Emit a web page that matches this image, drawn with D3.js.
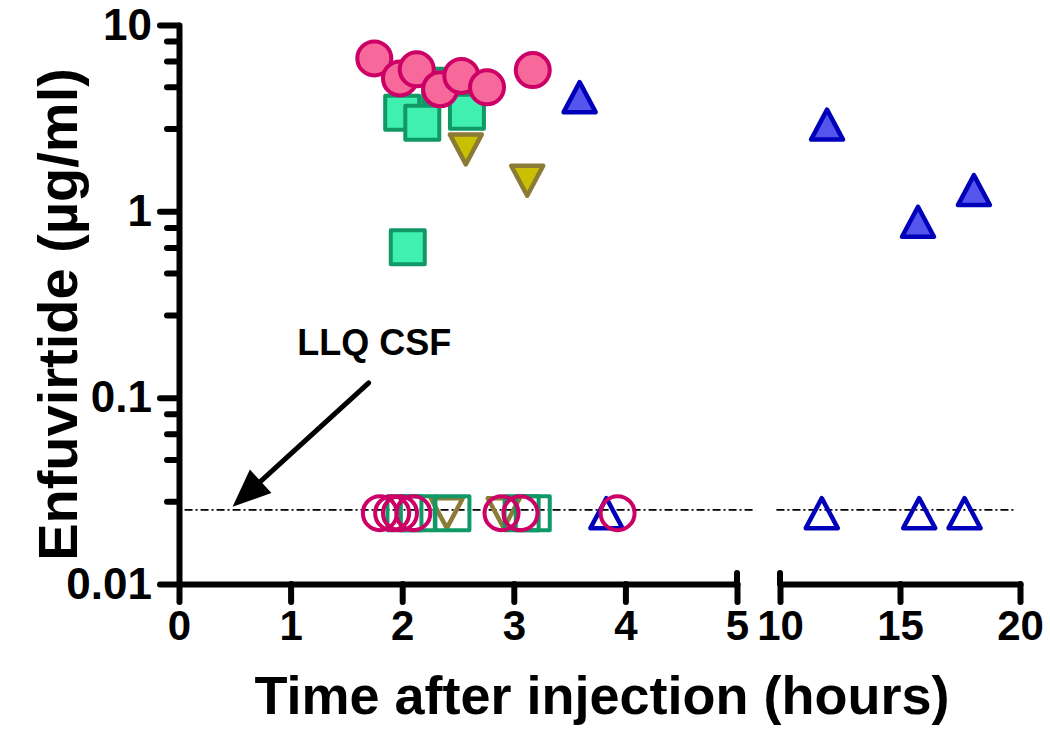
<!DOCTYPE html>
<html>
<head>
<meta charset="utf-8">
<script src="https://cdn.jsdelivr.net/npm/d3@7"></script>
<style>
  html, body { margin: 0; padding: 0; background: #fff; }
  svg { display: block; }
  text { font-family: "Liberation Sans", Arial, sans-serif; font-weight: bold; fill: #000; }
</style>
</head>
<body>
<svg id="chart" width="1050" height="742"></svg>
<script>
// ---------------- data ----------------
// Lower limit of quantification (CSF) and the value at which BLQ samples are plotted
const llqCSF = 0.025;
const blqPlotValue = 0.024;

// pink circles
const circleFilledTime = [1.75, 1.98, 2.13, 2.34, 2.53, 2.76, 3.17];
const circleFilledConc = [6.62, 5.17, 5.78, 4.52, 5.33, 4.63, 5.73];
const circleOpenTime   = [1.80, 1.91, 1.98, 2.10, 2.89, 3.06, 3.93];

// green squares
const squareFilledTime = [2.34, 2.00, 2.18, 2.58, 2.05];
const squareFilledConc = [4.72, 3.38, 2.99, 3.42, 0.641];
const squareOpenTime   = [2.02, 2.14, 2.45, 3.07, 3.17];

// olive down-triangles
const downFilledTime = [2.57, 3.12];
const downFilledConc = [2.15, 1.46];
const downOpenTime   = [2.40, 2.91];

// blue up-triangles
const upFilledTime = [3.59, 11.96, 15.75, 18.08];
const upFilledConc = [4.10, 2.92, 0.879, 1.30];
const upOpenTime   = [3.83, 11.74, 15.80, 17.69];

// axes
const yMajorTicks = [10, 1, 0.1, 0.01];
const yMajorLabels = ["10", "1", "0.1", "0.01"];
const yMinorFactors = [0.82, 0.64, 0.466, 0.278];
const xTicksLeft = [0, 1, 2, 3, 4, 5];
const xTicksRight = [10, 15, 20];

const yTitle = "Enfuvirtide (\u00B5g/ml)";
const xTitle = "Time after injection (hours)";
const llqLabel = "LLQ CSF";

// ---------------- scales ----------------
const svg = d3.select("#chart");
const y = d3.scaleLog().domain([0.01, 10]).range([584, 25]);
const x1 = d3.scaleLinear().domain([0, 5]).range([179, 737]);
const x2 = d3.scaleLinear().domain([10, 20]).range([780, 1020]);
const xPos = t => (t <= 5 ? x1(t) : x2(t));

const AX = 6;

// ---------------- LLQ line ----------------
const llqG = svg.append("g");
[[x1, 0.05, 5.14], [x2, 9.85, 19.8]].forEach(([sc, a, b]) => {
  llqG.append("line")
    .attr("x1", sc(a)).attr("x2", sc(b))
    .attr("y1", y(llqCSF)).attr("y2", y(llqCSF))
    .attr("stroke", "#000").attr("stroke-width", 1.8)
    .attr("stroke-dasharray", "8,3,2,3");
});

// ---------------- markers ----------------
const triW = 32, triH = 30;
const upPath = `M0,${-triH/2}L${triW/2},${triH/2}L${-triW/2},${triH/2}Z`;
const downPath = `M0,${triH/2}L${triW/2},${-triH/2}L${-triW/2},${-triH/2}Z`;
const sq = 34;
const sqPath = `M${-sq/2},${-sq/2}H${sq/2}V${sq/2}H${-sq/2}Z`;
const r = 17;
const circPath = `M${r},0A${r},${r} 0 1,1 ${-r},0A${r},${r} 0 1,1 ${r},0Z`;

function drawSeries(times, concs, path, fill, stroke, sw) {
  const pts = times.map((t, i) => ({ t, c: concs ? concs[i] : blqPlotValue }));
  svg.append("g").selectAll("path").data(pts).enter().append("path")
    .attr("d", path)
    .attr("transform", d => `translate(${xPos(d.t)},${y(d.c)})`)
    .attr("fill", fill)
    .attr("stroke", stroke)
    .attr("stroke-width", sw)
    .attr("stroke-linejoin", "round");
}

const blueS = "#0000bb", blueF = "#5555ee";
const oliveS = "#8b7b36", oliveF = "#c8c000";
const greenS = "#109966", greenF = "#40f0b0";
const pinkS = "#cc0066", pinkF = "#f7699a";

// open (BLQ)
drawSeries(upOpenTime, null, upPath, "none", blueS, 4.5);
drawSeries(downOpenTime, null, downPath, "none", oliveS, 4.5);
drawSeries(squareOpenTime, null, sqPath, "none", greenS, 4);
drawSeries(circleOpenTime, null, circPath, "none", pinkS, 4);
// filled
drawSeries(upFilledTime, upFilledConc, upPath, blueF, blueS, 4.5);
drawSeries(downFilledTime, downFilledConc, downPath, oliveF, oliveS, 4.5);
drawSeries(squareFilledTime, squareFilledConc, sqPath, greenF, greenS, 4);
drawSeries(circleFilledTime, circleFilledConc, circPath, pinkF, pinkS, 4);

// ---------------- axes ----------------
function styleAxis(g, fs) {
  g.selectAll("path.domain").attr("stroke", "#000").attr("stroke-width", AX).attr("stroke-linecap", "round");
  g.selectAll(".tick line").attr("stroke", "#000").attr("stroke-width", AX).attr("stroke-linecap", "round");
  g.selectAll(".tick text").attr("font-family", "Liberation Sans, Arial, sans-serif")
    .attr("font-weight", "bold").attr("font-size", fs || 40).attr("fill", "#000");
}

// y axis major
const yAx = svg.append("g").attr("transform", `translate(${x1(0)},0)`)
  .call(d3.axisLeft(y).tickValues(yMajorTicks).tickSize(19).tickSizeOuter(0).tickPadding(8)
    .tickFormat((d, i) => yMajorLabels[i]));
styleAxis(yAx, 44);
// y axis minor
const yMinor = [];
yMajorTicks.slice(0, 3).forEach(m => yMinorFactors.forEach(f => yMinor.push(m * f)));
const yMin = svg.append("g").attr("transform", `translate(${x1(0)},0)`)
  .call(d3.axisLeft(y).tickValues(yMinor).tickSize(12).tickFormat(""));
yMin.select("path.domain").remove();
styleAxis(yMin);

// x axis left panel
const xAxL = svg.append("g").attr("transform", `translate(0,${y(0.01)})`)
  .call(d3.axisBottom(x1).tickValues(xTicksLeft).tickSize(18).tickSizeOuter(0).tickPadding(8)
    .tickFormat(d3.format("d")));
styleAxis(xAxL, 42);
xAxL.append("line").attr("x1", x1(5)).attr("x2", x1(5)).attr("y1", -11).attr("y2", 0)
  .attr("stroke", "#000").attr("stroke-width", AX).attr("stroke-linecap", "round");

// x axis right panel
const xAxR = svg.append("g").attr("transform", `translate(0,${y(0.01)})`)
  .call(d3.axisBottom(x2).tickValues(xTicksRight).tickSize(18).tickSizeOuter(0).tickPadding(8)
    .tickFormat(d3.format("d")));
styleAxis(xAxR, 42);
xAxR.append("line").attr("x1", x2(10)).attr("x2", x2(10)).attr("y1", -11).attr("y2", 0)
  .attr("stroke", "#000").attr("stroke-width", AX).attr("stroke-linecap", "round");

// ---------------- titles ----------------
svg.append("text")
  .attr("transform", `translate(77,${(y(10) + y(0.01)) / 2 + 10}) rotate(-90)`)
  .attr("text-anchor", "middle")
  .attr("font-size", 56)
  .text(yTitle);

svg.append("text")
  .attr("x", 602).attr("y", 714)
  .attr("text-anchor", "middle")
  .attr("font-size", 54)
  .text(xTitle);

// ---------------- annotation ----------------
const tipT = 0.48, startT = 1.70, startC = 0.12;
const tip = [x1(tipT), y(llqCSF) - 3];
const st = [x1(startT), y(startC)];
const dx = tip[0] - st[0], dy = tip[1] - st[1];
const len = Math.hypot(dx, dy);
const ux = dx / len, uy = dy / len;
const headL = 38, headW = 16;
const base = [tip[0] - headL * ux, tip[1] - headL * uy];
svg.append("line")
  .attr("x1", st[0]).attr("y1", st[1]).attr("x2", base[0] + 2 * ux).attr("y2", base[1] + 2 * uy)
  .attr("stroke", "#000").attr("stroke-width", 5).attr("stroke-linecap", "round");
svg.append("path")
  .attr("d", `M${tip[0]},${tip[1]}L${base[0] - headW * uy},${base[1] + headW * ux}L${base[0] + headW * uy},${base[1] - headW * ux}Z`)
  .attr("fill", "#000");

svg.append("text")
  .attr("x", x1(1.06)).attr("y", y(0.17))
  .attr("font-size", 36)
  .text(llqLabel);
</script>
</body>
</html>
